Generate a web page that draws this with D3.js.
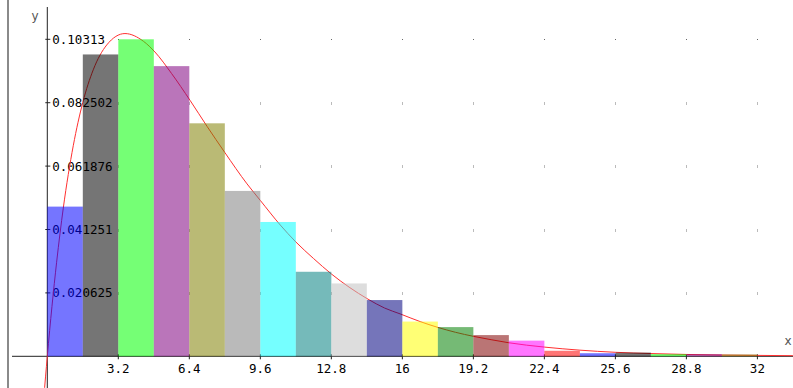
<!DOCTYPE html>
<html>
<head>
<meta charset="utf-8">
<script src="https://cdn.jsdelivr.net/npm/d3@7"></script>
<style>
  html, body { margin: 0; padding: 0; background: #fff; }
  svg { display: block; }
  .tick-label { font-family: "DejaVu Sans Mono", monospace; font-size: 12.5px; fill: #000; }
</style>
</head>
<body>
<div id="chart"></div>
<script>
// Histogram bins (left edge, width 1.6) and heights
const binStarts = [0, 1.6, 3.2, 4.8, 6.4, 8.0, 9.6, 11.2, 12.8, 14.4, 16.0, 17.6, 19.2, 20.8, 22.4, 24.0, 25.6, 27.2, 28.8, 30.4];
const binWidth = 1.6;
const barValues = [0.0487, 0.0982, 0.10313, 0.0944, 0.0758, 0.0538, 0.0437, 0.0275, 0.0237, 0.0183,
                   0.0113, 0.0095, 0.0069, 0.0051, 0.0018, 0.0010, 0.0012, 0.0007, 0.0007, 0.0006];
const barColors = ["#0000ff", "#000000", "#00ff00", "#800080", "#808000", "#808080", "#00ffff", "#008080",
                   "#c0c0c0", "#000080", "#ffff00", "#008000", "#800000", "#ff00ff", "#ff0000",
                   "#0000ff", "#000000", "#00ff00", "#800080", "#808000"];

// Density curve
const curveX = [-0.16, 0, 0.42, 0.72, 1.17, 1.6, 2.07, 2.68, 3.5, 4.33, 4.85, 5.6, 6.43, 7.2, 8.0, 9.0, 9.6,
                10.5, 11.2, 12.0, 12.8, 13.6, 14.45, 15.2, 15.9, 16.8, 17.6, 18.4, 19.2, 20.0, 20.8, 22.4,
                24.0, 25.6, 27.2, 28.8, 30.4, 32, 33.6];
const curveY = [-0.0136, 0, 0.0306, 0.0482, 0.0685, 0.0826, 0.0932, 0.1013, 0.1050, 0.1025, 0.0990, 0.0920,
                0.0833, 0.0748, 0.0663, 0.0561, 0.0507, 0.0427, 0.0372, 0.0318, 0.0268, 0.0225, 0.0186,
                0.0157, 0.0138, 0.0113, 0.0094, 0.0078, 0.0065, 0.0054, 0.0044, 0.0030, 0.0020, 0.0013,
                0.0009, 0.0006, 0.0004, 0.0003, 0.0002];

// Axis ticks
const xTicks = [3.2, 6.4, 9.6, 12.8, 16, 19.2, 22.4, 25.6, 28.8, 32];
const xTickLabels = ["3.2", "6.4", "9.6", "12.8", "16", "19.2", "22.4", "25.6", "28.8", "32"];
const yTicks = [0.020625, 0.041251, 0.061876, 0.082502, 0.10313];
const yTickLabels = ["0.020625", "0.041251", "0.061876", "0.082502", "0.10313"];

const width = 793, height = 388;

const svg = d3.select("#chart").append("svg")
  .attr("width", width)
  .attr("height", height);

const x = d3.scaleLinear().domain([0, 32]).range([47.3, 757.4]);
const y = d3.scaleLinear().domain([0, 0.10313]).range([356.3, 39.3]);

// Left window border
svg.append("rect")
  .attr("x", 7).attr("y", 0)
  .attr("width", 2).attr("height", height)
  .attr("fill", "#8a8a8a");

// Grid dots at tick intersections
const dots = svg.append("g");
yTicks.forEach((ty, j) => {
  const top = j === yTicks.length - 1;
  xTicks.forEach(tx => {
    dots.append("rect")
      .attr("x", Math.round(x(tx)))
      .attr("y", Math.round(y(ty)) - (top ? 0 : 1))
      .attr("width", 1)
      .attr("height", top ? 1 : 3)
      .attr("fill", top ? "#666" : "#bbb");
  });
});

// Axes lines
svg.append("line")
  .attr("x1", 12).attr("x2", width)
  .attr("y1", y(0)).attr("y2", y(0))
  .attr("stroke", "#222").attr("stroke-width", 1);

svg.append("line")
  .attr("x1", x(0)).attr("x2", x(0))
  .attr("y1", 7).attr("y2", height)
  .attr("stroke", "#222").attr("stroke-width", 1);

// Tick marks
svg.append("g").selectAll("line")
  .data(xTicks)
  .join("line")
  .attr("x1", d => x(d)).attr("x2", d => x(d))
  .attr("y1", y(0) - 2).attr("y2", y(0) + 3)
  .attr("stroke", "#222");

svg.append("g").selectAll("line")
  .data(yTicks)
  .join("line")
  .attr("x1", x(0) - 2).attr("x2", x(0) + 3)
  .attr("y1", d => y(d)).attr("y2", d => y(d))
  .attr("stroke", "#222");

// Tick labels
svg.append("g").selectAll("text")
  .data(xTicks)
  .join("text")
  .attr("class", "tick-label")
  .attr("x", d => x(d))
  .attr("y", y(0) + 16.5)
  .attr("text-anchor", "middle")
  .text((d, i) => xTickLabels[i]);

svg.append("g").selectAll("text")
  .data(yTicks)
  .join("text")
  .attr("class", "tick-label")
  .attr("x", x(0) + 5)
  .attr("y", d => y(d) + 4.5)
  .text((d, i) => yTickLabels[i]);

// Axis names
svg.append("text")
  .attr("x", 35).attr("y", 20)
  .attr("text-anchor", "middle")
  .attr("font-family", "DejaVu Sans, sans-serif")
  .attr("font-size", "12px")
  .attr("fill", "#555")
  .text("y");

svg.append("text")
  .attr("x", 788).attr("y", 345)
  .attr("text-anchor", "middle")
  .attr("font-family", "DejaVu Sans, sans-serif")
  .attr("font-size", "12px")
  .attr("fill", "#555")
  .text("x");

// Density curve (drawn under the translucent bars)
const line = d3.line()
  .x(d => x(d[0]))
  .y(d => y(d[1]))
  .curve(d3.curveMonotoneX);

svg.append("path")
  .datum(curveX.map((v, i) => [v, curveY[i]]))
  .attr("d", line)
  .attr("fill", "none")
  .attr("stroke", "#ff3030")
  .attr("stroke-width", 1);

// Histogram bars
svg.append("g").selectAll("rect")
  .data(barValues)
  .join("rect")
  .attr("x", (d, i) => x(binStarts[i]))
  .attr("y", d => y(d))
  .attr("width", x(binWidth) - x(0))
  .attr("height", d => y(0) - y(d))
  .attr("fill", (d, i) => barColors[i])
  .attr("fill-opacity", 0.54);
</script>
</body>
</html>
